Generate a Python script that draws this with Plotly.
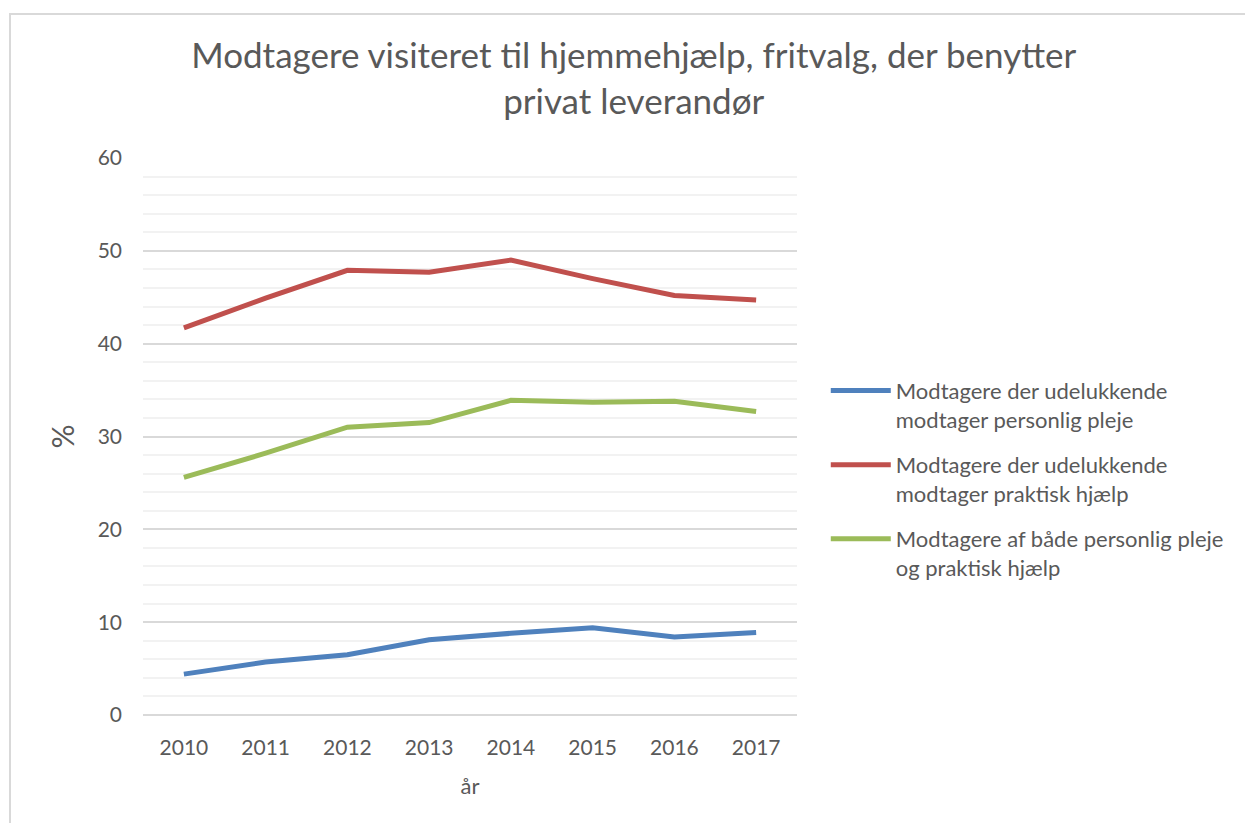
import plotly.graph_objects as go

years = ["2010", "2011", "2012", "2013", "2014", "2015", "2016", "2017"]
personlig = [4.4, 5.7, 6.5, 8.1, 8.8, 9.4, 8.4, 8.9]
praktisk = [41.7, 44.9, 47.9, 47.7, 49.0, 47.0, 45.2, 44.7]
begge = [25.6, 28.2, 31.0, 31.5, 33.9, 33.7, 33.8, 32.7]

names = [
    "Modtagere der udelukkende<br>modtager personlig pleje",
    "Modtagere der udelukkende<br>modtager praktisk hjælp",
    "Modtagere af både personlig pleje<br>og praktisk hjælp",
]
colors = ["#4f81bd", "#c0504d", "#9bbb59"]
FONT = "Lato"
GRAY = "#595959"

fig = go.Figure()
for i, (vals, nm, col) in enumerate(zip([personlig, praktisk, begge], names, colors)):
    fig.add_trace(go.Scatter(x=years, y=vals, name=nm, mode="lines",
                             legendgroup=f"g{i}",
                             line=dict(color=col, width=5)))

fig.update_layout(
    width=1245, height=823,
    margin=dict(l=143, r=448, t=158, b=108),
    paper_bgcolor="white", plot_bgcolor="white",
    font=dict(family=FONT, color=GRAY, size=21),
    title=dict(text="Modtagere visiteret til hjemmehjælp, fritvalg, der benytter<br>privat leverandør",
               x=0.509, xanchor="center", xref="container",
               y=0.917, yanchor="top", yref="container",
               font=dict(size=35, color=GRAY, family=FONT)),
    legend=dict(x=1.044, xanchor="left", y=0.62, yanchor="top",
                font=dict(size=22, color=GRAY), valign="top",
                tracegroupgap=14, itemwidth=60),
    xaxis=dict(type="category", range=[-0.5, 7.5], showgrid=False,
               showline=False, ticks="", ticklabelstandoff=18,
               title=dict(text="år", font=dict(size=22), standoff=20)),
    yaxis=dict(range=[0, 60], dtick=10, gridcolor="#d9d9d9", gridwidth=1.5,
               zeroline=True, zerolinecolor="#d9d9d9", zerolinewidth=2,
               minor=dict(dtick=2, showgrid=True, gridcolor="#f2f2f2", gridwidth=1.5),
               ticks="", ticklabelstandoff=20,
               title=dict(text="%", font=dict(size=30), standoff=14)),
    shapes=[dict(type="rect", xref="paper", yref="paper",
                 x0=(10 - 143) / 654, x1=2.0, y0=-0.4, y1=(715 - 14) / 557,
                 line=dict(color="#d9d9d9", width=2), layer="below")],
)

fig.write_html("out.html")
